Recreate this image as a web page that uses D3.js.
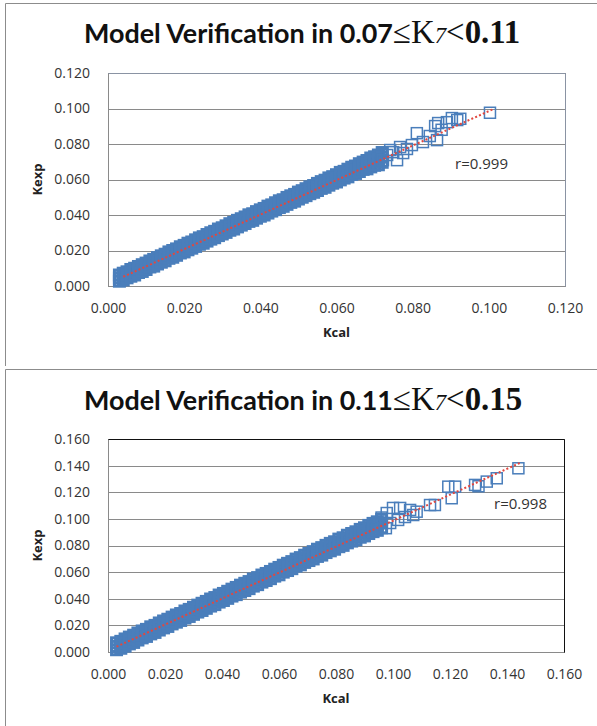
<!DOCTYPE html>
<html>
<head>
<meta charset="utf-8">
<script src="https://cdn.jsdelivr.net/npm/d3@7"></script>
<style>
  body { margin: 0; background: #fff; }
  svg { display: block; }
  .lbl text { font-family: "Open Sans", sans-serif; font-size: 14px; fill: #333; }
  .grid line { stroke: #8a8a8a; stroke-width: 1; shape-rendering: crispEdges; }
</style>
</head>
<body>
<svg id="chart" width="597" height="726"></svg>
<script>
// ---- panel 1 : 0.07 <= K7 < 0.11 ----
var ticksA = [0, 0.02, 0.04, 0.06, 0.08, 0.10, 0.12];
var bandKcalA = [
  0.003,0.004,0.005,0.006,0.007,0.008,0.009,0.010,0.011,0.012,
  0.013,0.014,0.015,0.016,0.017,0.018,0.019,0.020,0.021,0.022,
  0.023,0.024,0.025,0.026,0.027,0.028,0.029,0.030,0.031,0.032,
  0.033,0.034,0.035,0.036,0.037,0.038,0.039,0.040,0.041,0.042,
  0.043,0.044,0.045,0.046,0.047,0.048,0.049,0.050,0.051,0.052,
  0.053,0.054,0.055,0.056,0.057,0.058,0.059,0.060,0.061,0.062,
  0.063,0.064,0.065,0.066,0.067,0.068,0.069,0.070,0.071,0.072];
var bandKexpMidA = [
  .0045,.0053,.0063,.0074,.0081,.0093,.0101,.0112,.0124,.0131,
  .0143,.0151,.0161,.0174,.0181,.0192,.0203,.0211,.0223,.0230,
  .0242,.0253,.0260,.0272,.0281,.0291,.0303,.0310,.0321,.0332,
  .0340,.0352,.0360,.0371,.0382,.0389,.0401,.0410,.0419,.0431,
  .0439,.0450,.0461,.0468,.0480,.0489,.0498,.0510,.0518,.0529,
  .0540,.0547,.0559,.0568,.0577,.0589,.0597,.0607,.0619,.0626,
  .0637,.0648,.0655,.0667,.0676,.0685,.0697,.0705,.0714,.0726];
var bandKexpLowA = [
  .0027,.0034,.0046,.0055,.0062,.0076,.0082,.0093,.0107,.0112,
  .0124,.0134,.0142,.0156,.0162,.0173,.0186,.0192,.0204,.0213,
  .0223,.0235,.0241,.0253,.0264,.0272,.0284,.0293,.0302,.0314,
  .0321,.0333,.0343,.0352,.0364,.0370,.0382,.0393,.0400,.0411,
  .0422,.0430,.0442,.0449,.0460,.0471,.0478,.0490,.0500,.0509,
  .0520,.0528,.0538,.0550,.0556,.0568,.0579,.0586,.0598,.0608,
  .0615,.0628,.0634,.0645,.0657,.0660,.0671,.0680,.0683,.0697];
var bandKexpHighA = [
  .0062,.0072,.0080,.0093,.0100,.0110,.0120,.0129,.0141,.0150,
  .0160,.0170,.0179,.0192,.0200,.0209,.0221,.0229,.0241,.0248,
  .0260,.0271,.0278,.0290,.0300,.0308,.0321,.0328,.0339,.0351,
  .0358,.0370,.0379,.0389,.0401,.0407,.0419,.0429,.0437,.0450,
  .0457,.0469,.0480,.0486,.0499,.0508,.0516,.0529,.0537,.0548,
  .0559,.0566,.0578,.0588,.0596,.0609,.0616,.0627,.0640,.0646,
  .0658,.0669,.0676,.0689,.0698,.0707,.0721,.0728,.0738,.0752];
var outKcalA = [0.1003,0.0903,0.0917,0.0890,0.0867,0.0859,0.0864,0.0811,0.0827,0.0798,0.0767,
                0.0749,0.0775,0.0733,0.0722,0.0759,0.0741,0.0925,0.0876,0.0845,0.0785];
var outKexpA = [0.0976,0.0946,0.0935,0.0923,0.0918,0.0901,0.0822,0.0861,0.0811,0.0794,0.0783,
                0.0754,0.0749,0.0738,0.0709,0.0709,0.0766,0.0942,0.0880,0.0845,0.0772];
var trendKcalA = [0.004, 0.101];
var trendKexpA = [0.0052, 0.0995];

// ---- panel 2 : 0.11 <= K7 < 0.15 ----
var ticksB = [0, 0.02, 0.04, 0.06, 0.08, 0.10, 0.12, 0.14, 0.16];
var bandKcalB = [
  0.0030,0.0045,0.0060,0.0075,0.0090,0.0105,0.0120,0.0135,0.0150,0.0165,
  0.0180,0.0195,0.0210,0.0225,0.0240,0.0255,0.0270,0.0285,0.0300,0.0315,
  0.0330,0.0345,0.0360,0.0375,0.0390,0.0405,0.0420,0.0435,0.0450,0.0465,
  0.0480,0.0495,0.0510,0.0525,0.0540,0.0555,0.0570,0.0585,0.0600,0.0615,
  0.0630,0.0645,0.0660,0.0675,0.0690,0.0705,0.0720,0.0735,0.0750,0.0765,
  0.0780,0.0795,0.0810,0.0825,0.0840,0.0855,0.0870,0.0885,0.0900,0.0915,
  0.0930,0.0945,0.0960];
var bandKexpMidB = [
  .0042,.0054,.0071,.0086,.0099,.0117,.0131,.0144,.0162,.0174,
  .0191,.0207,.0219,.0236,.0251,.0263,.0281,.0294,.0309,.0326,
  .0339,.0354,.0371,.0383,.0401,.0414,.0429,.0446,.0458,.0476,
  .0489,.0503,.0521,.0533,.0551,.0564,.0578,.0596,.0608,.0626,
  .0639,.0653,.0671,.0683,.0700,.0714,.0727,.0746,.0757,.0775,
  .0789,.0802,.0821,.0832,.0850,.0864,.0876,.0895,.0906,.0925,
  .0939,.0951,.0970];
var bandKexpLowB = [
  .0017,.0028,.0044,.0061,.0072,.0090,.0106,.0117,.0136,.0147,
  .0165,.0181,.0192,.0211,.0224,.0237,.0255,.0267,.0283,.0300,
  .0312,.0328,.0345,.0356,.0375,.0387,.0403,.0420,.0431,.0450,
  .0462,.0476,.0495,.0506,.0525,.0537,.0551,.0570,.0580,.0600,
  .0612,.0626,.0645,.0655,.0673,.0687,.0699,.0718,.0728,.0747,
  .0760,.0772,.0791,.0801,.0820,.0833,.0843,.0862,.0872,.0890,
  .0904,.0914,.0933];
var bandKexpHighB = [
  .0069,.0080,.0098,.0112,.0126,.0143,.0158,.0170,.0189,.0200,
  .0218,.0233,.0246,.0262,.0278,.0289,.0308,.0320,.0336,.0352,
  .0366,.0380,.0398,.0409,.0428,.0440,.0456,.0472,.0485,.0502,
  .0516,.0529,.0548,.0559,.0578,.0590,.0605,.0622,.0635,.0652,
  .0666,.0679,.0698,.0709,.0727,.0740,.0754,.0772,.0784,.0801,
  .0816,.0828,.0848,.0858,.0877,.0890,.0903,.0921,.0933,.0951,
  .0966,.0978,.0997];
var outKcalB = [0.1440,0.1364,0.1329,0.1288,0.1300,0.1194,0.1218,0.1206,0.1130,0.1147,0.1083,
                0.1060,0.1025,0.1000,0.1018,0.0990,0.1071,0.0978,0.1042,0.0960,0.0975,0.0945];
var outKexpB = [0.1380,0.1305,0.1280,0.1255,0.1245,0.1242,0.1242,0.1155,0.1104,0.1104,0.1054,
                0.1067,0.1082,0.1082,0.0992,0.0969,0.1029,0.1044,0.1014,0.1010,0.0930,0.0965];
var trendKcalB = [0.003, 0.145];
var trendKexpB = [0.004, 0.1425];

var BLUE = '#4a7ebb';
var SERIF = '"Liberation Serif", "DejaVu Serif", serif';
var svg = d3.select('#chart');

var panels = [
  { frameTop: 3.5, frameBottom: 366, top: 73, bottom: 286, left: 108, right: 565,
    ticks: ticksA, bandX: bandKcalA, low: bandKexpLowA, mid: bandKexpMidA, high: bandKexpHighA,
    outX: outKcalA, outY: outKexpA, trendX: trendKcalA, trendY: trendKexpA,
    first: '0.07', rest: '0.11', r: 'r=0.999', rX: 455, rY: 169,
    titleY: 43, innerEdge: '#8a93a3' },
  { frameTop: 369.5, frameBottom: 730, top: 439, bottom: 652, left: 108, right: 564,
    ticks: ticksB, bandX: bandKcalB, low: bandKexpLowB, mid: bandKexpMidB, high: bandKexpHighB,
    outX: outKcalB, outY: outKexpB, trendX: trendKcalB, trendY: trendKexpB,
    first: '0.11', rest: '0.15', r: 'r=0.998', rX: 494, rY: 508.5,
    titleY: 410, innerEdge: '#111' }
];

panels.forEach(drawPanel);

function drawPanel(p) {
  var max = p.ticks[p.ticks.length - 1];
  var x = d3.scaleLinear().domain([0, max]).range([p.left, p.right]);
  var y = d3.scaleLinear().domain([0, max]).range([p.bottom, p.top]);
  var fmt = d3.format('.3f');
  var g = svg.append('g');

  // outer frame (left + top edges)
  g.append('path')
    .attr('d', 'M5.5,' + p.frameBottom + 'V' + p.frameTop + 'H600')
    .attr('fill', 'none')
    .attr('stroke', '#8c8c8c');

  // title: sans part then serif math part
  var title = g.append('text')
    .attr('x', 84)
    .attr('y', p.titleY)
    .attr('font-size', 26)
    .attr('fill', '#111');
  var head = title.append('tspan')
    .attr('font-family', 'Lato, "Open Sans", sans-serif')
    .attr('font-weight', 'bold')
    .text('Model Verification in ' + p.first);
  var hw = head.node().getComputedTextLength();
  title.attr('font-size', 26 * 309 / hw);
  title.append('tspan')
    .attr('font-family', SERIF)
    .attr('font-size', '1.22em')
    .text('\u2264K');
  title.append('tspan')
    .attr('font-family', SERIF)
    .attr('font-style', 'italic')
    .attr('font-size', '0.85em')
    .text('7');
  title.append('tspan')
    .attr('font-family', SERIF)
    .attr('font-size', '1.22em')
    .text('<');
  title.append('tspan')
    .attr('font-family', SERIF)
    .attr('font-weight', 'bold')
    .attr('font-size', '1.22em')
    .text(p.rest);

  // gridlines
  g.append('g')
    .attr('class', 'grid')
    .attr('transform', 'translate(' + p.left + ',0)')
    .call(d3.axisLeft(y).tickValues(p.ticks).tickSize(-(p.right - p.left)).tickFormat(''))
    .call(function(s) { s.select('.domain').remove(); });

  // plot frame
  g.append('rect')
    .attr('x', p.left + 0.5).attr('y', p.top + 0.5)
    .attr('width', p.right - p.left).attr('height', p.bottom - p.top)
    .attr('fill', 'none')
    .attr('stroke', '#8a8a8a');
  g.append('path')
    .attr('d', 'M' + (p.left + 0.5) + ',' + (p.top + 0.5) + 'H' + (p.right + 0.5) + 'V' + (p.bottom + 0.5))
    .attr('fill', 'none')
    .attr('stroke', p.innerEdge);

  // tick labels
  g.append('g')
    .attr('class', 'lbl')
    .attr('transform', 'translate(' + p.left + ',0)')
    .call(d3.axisLeft(y).tickValues(p.ticks).tickSize(0).tickPadding(18).tickFormat(fmt))
    .call(function(s) { s.select('.domain').remove(); });
  g.append('g')
    .attr('class', 'lbl')
    .attr('transform', 'translate(0,' + p.bottom + ')')
    .call(d3.axisBottom(x).tickValues(p.ticks).tickSize(0).tickPadding(17).tickFormat(fmt))
    .call(function(s) { s.select('.domain').remove(); });

  // axis titles
  g.append('text')
    .attr('transform', 'translate(42,' + ((p.top + p.bottom) / 2) + ') rotate(-90)')
    .attr('text-anchor', 'middle')
    .style('font-family', '"Open Sans", sans-serif')
    .style('font-size', '13px')
    .style('font-weight', 'bold')
    .style('fill', '#222')
    .text('Kexp');
  g.append('text')
    .attr('x', (p.left + p.right) / 2)
    .attr('y', p.bottom + 51)
    .attr('text-anchor', 'middle')
    .style('font-family', '"Open Sans", sans-serif')
    .style('font-size', '13px')
    .style('font-weight', 'bold')
    .style('fill', '#222')
    .text('Kcal');

  // points: the dense band is heavily overplotted in the original
  var band = [];
  p.bandX.forEach(function(v, i) {
    band.push([v, p.low[i]]);
    band.push([v, p.high[i]]);
    band.push([v, p.mid[i]]);
  });
  var outs = d3.zip(p.outX, p.outY);
  var marks = g.append('g');
  marks.selectAll('rect.band')
    .data(band)
    .enter().append('rect')
    .attr('class', 'band')
    .attr('x', function(d) { return x(d[0]) - 5; })
    .attr('y', function(d) { return y(d[1]) - 5; })
    .attr('width', 10)
    .attr('height', 10)
    .attr('fill', 'none')
    .attr('stroke', BLUE)
    .attr('stroke-width', 3);
  marks.selectAll('rect.out')
    .data(outs)
    .enter().append('rect')
    .attr('class', 'out')
    .attr('x', function(d) { return x(d[0]) - 5.5; })
    .attr('y', function(d) { return y(d[1]) - 5.5; })
    .attr('width', 11)
    .attr('height', 11)
    .attr('fill', 'none')
    .attr('stroke', BLUE)
    .attr('stroke-width', 1.5);

  // trendline
  var line = d3.line()
    .x(function(d) { return x(d[0]); })
    .y(function(d) { return y(d[1]); });
  g.append('path')
    .datum(d3.zip(p.trendX, p.trendY))
    .attr('d', line)
    .attr('fill', 'none')
    .attr('stroke', '#e2473f')
    .attr('stroke-width', 2)
    .attr('stroke-dasharray', '2,2.2');

  // r label
  g.append('text')
    .attr('x', p.rX)
    .attr('y', p.rY)
    .style('font-family', '"Open Sans", sans-serif')
    .style('font-size', '15px')
    .style('fill', '#333')
    .text(p.r);
}
</script>
</body>
</html>
